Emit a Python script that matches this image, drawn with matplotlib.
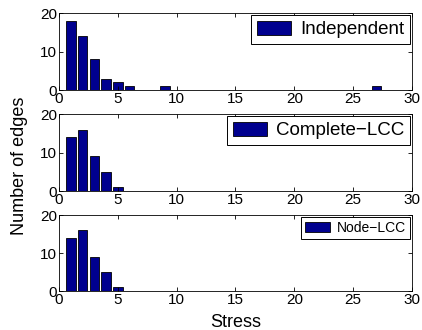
import numpy as np
import matplotlib
matplotlib.use('Agg')
import matplotlib.pyplot as plt

# stress bins 1..27 (hist centers)
stress = np.arange(1, 28)
independent = [18, 14, 8, 3, 2, 1, 0, 0, 1, 0, 0, 0, 0, 0, 0, 0, 0, 0, 0, 0, 0, 0, 0, 0, 0, 0, 1]
complete_lcc = [14, 16, 9, 5, 1] + [0] * 22
node_lcc = [14, 16, 9, 5, 1] + [0] * 22

series = [independent, complete_lcc, node_lcc]
labels = ['Independent', 'Complete\u2212LCC', 'Node\u2212LCC']
legend_sizes = [13.5, 13.5, 10]

plt.rcParams['font.family'] = ['Liberation Sans', 'DejaVu Sans']

fig = plt.figure(figsize=(4.22, 3.30), dpi=100)
left, width = 0.140, 0.836
bottoms = [0.727, 0.421, 0.118]
heights = [0.233, 0.233, 0.230]

for vals, lab, fs, b, h in zip(series, labels, legend_sizes, bottoms, heights):
    ax = fig.add_axes([left, b, width, h])
    ax.bar(stress, vals, width=0.8, color='#00008f', edgecolor='black',
           linewidth=0.6, label=lab)
    ax.set_xlim(0, 30)
    ax.set_ylim(0, 20)
    ax.set_xticks([0, 5, 10, 15, 20, 25, 30])
    ax.set_yticks([0, 10, 20])
    ax.tick_params(direction='in', top=True, right=True, labelsize=11,
                   length=3, width=0.6, pad=1.5)
    for s in ax.spines.values():
        s.set_linewidth(0.6)
    leg = ax.legend(loc='upper right', fontsize=fs, fancybox=False,
                    borderaxespad=0.1, handlelength=1.8, handleheight=0.8,
                    handletextpad=0.5, borderpad=0.3)
    leg.get_frame().set_edgecolor('black')
    leg.get_frame().set_linewidth(0.7)
    leg.get_frame().set_alpha(1)
    if b == bottoms[-1]:
        ax.set_xlabel('Stress', fontsize=13, labelpad=5)

fig.text(0.046, 0.497, 'Number of edges', rotation=90, fontsize=13,
         ha='center', va='center')

fig.savefig('out.png', dpi=100)
